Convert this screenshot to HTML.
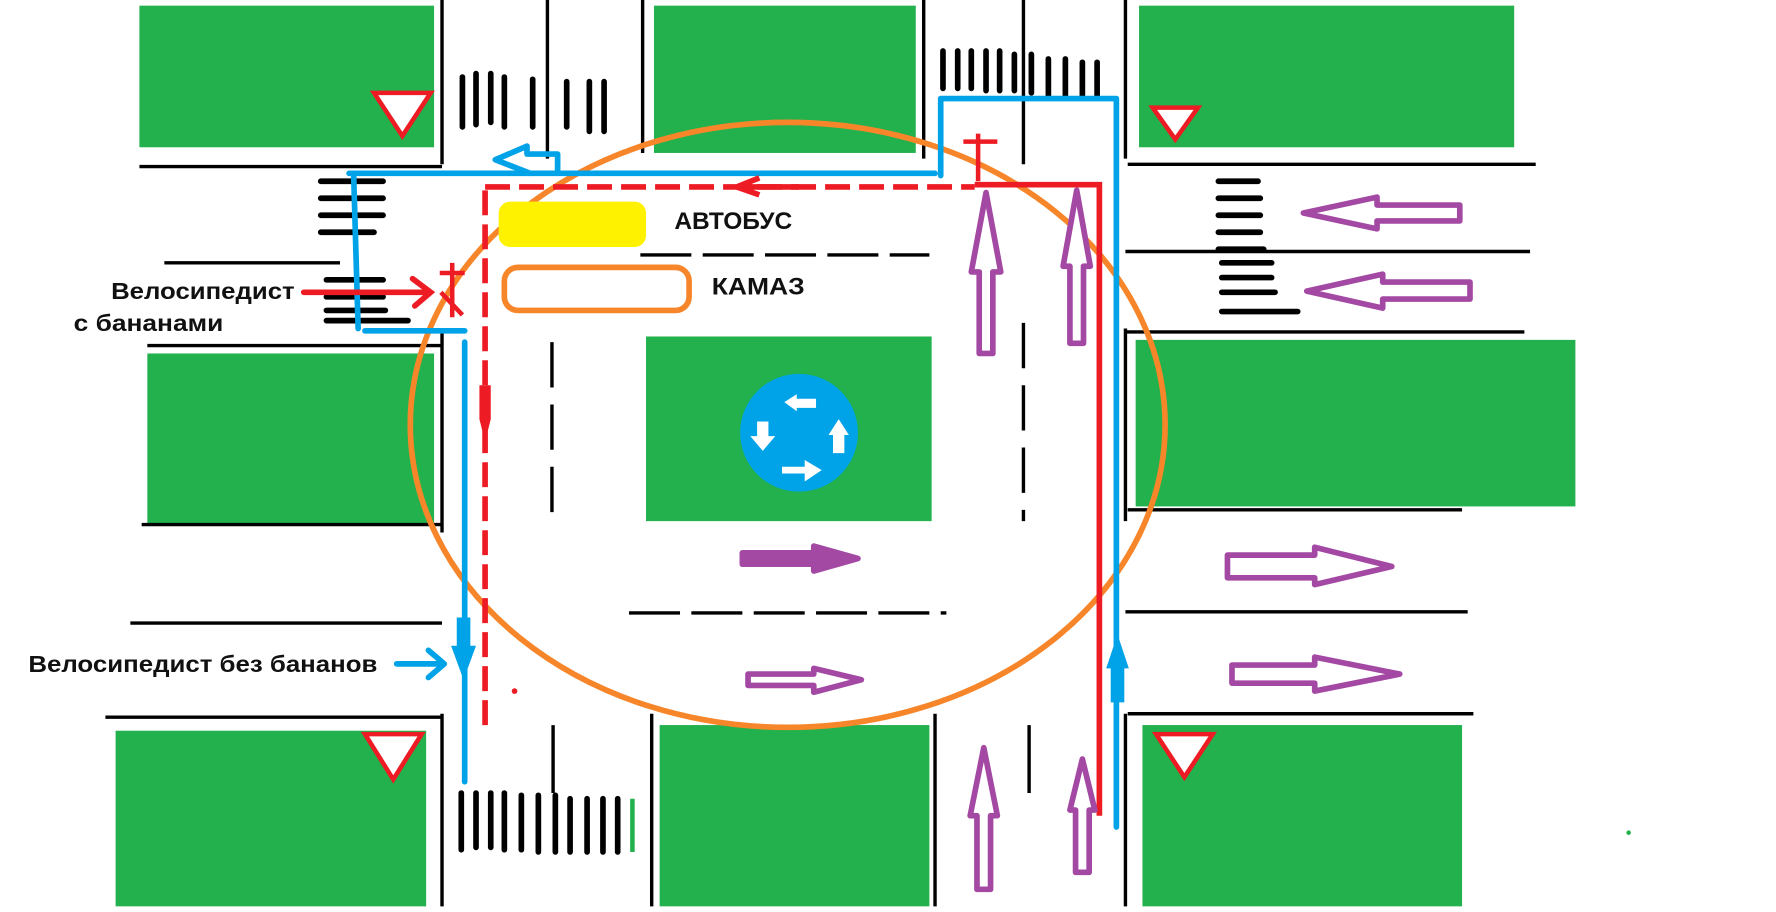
<!DOCTYPE html>
<html><head><meta charset="utf-8"><style>
html,body{margin:0;padding:0;background:#fff;}
svg{display:block;}
text{font-family:"Liberation Sans",sans-serif;font-weight:bold;fill:#111;}
</style></head><body>
<svg width="1776" height="912" viewBox="0 0 1567 805" preserveAspectRatio="none" xmlns="http://www.w3.org/2000/svg">
<rect width="1567" height="805" fill="#fff"/>
<g fill="#22b14c">
<rect x="123" y="5" width="260" height="125"/>
<rect x="577" y="5" width="231" height="130"/>
<rect x="1005" y="5" width="331" height="125"/>
<rect x="130" y="312" width="253" height="150"/>
<rect x="570" y="297" width="252" height="163"/>
<rect x="1002" y="300" width="388" height="147"/>
<rect x="102" y="645" width="274" height="155"/>
<rect x="582" y="640" width="238" height="160"/>
<rect x="1008" y="640" width="282" height="160"/>
</g>
<g stroke="#000" stroke-width="3" fill="none">
<path d="M390 0V145M483 0V140M567 0V135M815 0V140M903 0V145M993 0V140"/>
<path d="M123 147H390M995 145H1355M145 232H300M993 222H1350M993 293H1345M130 305H390M390 290V470M993 290V460M125 463H390M995 450H1290M115 550H390M993 540H1295M93 633H390M995 630H1300M390 630V800M575 630V800M825 630V800M993 630V800M488 640V700M908 640V700"/>
<path d="M487 302V465M903 285V460" stroke-dasharray="40 15"/>
<path d="M565 225H820M555 541H835" stroke-dasharray="45 10"/>
</g>
<g stroke="#000" stroke-width="5" stroke-linecap="round">
<path d="M408 68V112M420 65V110M433 65V108M445 68V112M470 70V112M500 72V112M520 72V116M533 72V116"/>
<path d="M832 45V78M845 45V78M857 45V78M870 45V80M882 45V80M895 48V80M910 48V82M925 52V85M940 52V85M955 55V85M968 55V85"/>
<path d="M283 160H338M283 175H338M283 190H338M283 205H330M288 247H338M288 262H338M288 274H340M288 283H360"/>
<path d="M1075 160H1110M1075 175H1112M1075 190H1112M1075 205H1112M1075 220H1115M1078 232H1122M1078 245H1122M1078 258H1125M1078 275H1145"/>
<path d="M407 700V750M420 700V748M433 700V748M445 700V750M460 702V750M475 702V752M490 702V752M503 705V752M518 705V752M532 705V752M545 705V752"/>
</g>
<path d="M558 705V752" stroke="#22b14c" stroke-width="4"/>
<circle cx="1437" cy="735" r="2" fill="#22b14c"/>
<g fill="#fff" stroke="#ed1c24" stroke-width="4">
<path d="M330 82H380L355 120Z"/><path d="M1017 95H1057L1037 123Z"/>
<path d="M322 648H372L347 688Z"/><path d="M1020 648H1070L1045 686Z"/>
</g>
<ellipse cx="695" cy="375" rx="333" ry="267" fill="none" stroke="#f7862b" stroke-width="5"/>
<rect x="440" y="178" width="130" height="40" rx="10" fill="#fff200"/>
<rect x="445" y="236" width="163" height="38" rx="12" fill="none" stroke="#f7862b" stroke-width="5"/>
<text x="595" y="202" font-size="21" textLength="104" lengthAdjust="spacingAndGlyphs">АВТОБУС</text>
<text x="628" y="260" font-size="21" textLength="82" lengthAdjust="spacingAndGlyphs">КАМАЗ</text>
<text x="98" y="264" font-size="20" textLength="162" lengthAdjust="spacingAndGlyphs">Велосипедист</text>
<text x="65" y="292" font-size="20" textLength="132" lengthAdjust="spacingAndGlyphs">с бананами</text>
<text x="25" y="593" font-size="20" textLength="308" lengthAdjust="spacingAndGlyphs">Велосипедист без бананов</text>
<circle cx="705" cy="382" r="52" fill="#00a2e8"/>
<g fill="#fff">
<path d="M692 355L703 348V352H720V360H703V363Z"/>
<path d="M668 372H678V385H684L673 398L662 385H668Z"/>
<path d="M735 400V384H731L740 370L749 384H745V400Z"/>
<path d="M690 412H710V406L725 415L710 425V418H690Z"/>
</g>
<g fill="none" stroke="#00a2e8" stroke-width="5" stroke-linecap="round" stroke-linejoin="round">
<path d="M308 153H825M312 153L316 290M322 292H410M410 302V690M830 155V87H985V730"/>
<path d="M468 153L437 141L465 129V136H492V150"/>
<path d="M350 586H390M378 574L392 586L378 598"/>
</g>
<path d="M403 545H415V570H420L409 600L398 570H403Z" fill="#00a2e8"/>
<path d="M980 620V590H976L986 560L996 590H992V620Z" fill="#00a2e8"/>
<g fill="none" stroke="#ed1c24" stroke-width="5">
<path d="M428 165H860M428 168V640" stroke-dasharray="22 8"/>
<path d="M860 163H970V720"/>
<path d="M268 258H378M364 246L380 258L366 270" stroke-linecap="round"/>
<path d="M388 241H410M399 232V280M389 258L408 278" stroke-width="4"/>
<path d="M850 125H880M863 118V160" stroke-width="4"/>
<path d="M705 165L650 165M670 157L650 165L670 172"/>
</g>
<path d="M423 340H433V370L428 390L423 370Z" fill="#ed1c24"/>
<circle cx="454" cy="610" r="2.5" fill="#ed1c24"/>
<g fill="#fff" stroke="#a349a4" stroke-width="5" stroke-linejoin="round">
<path d="M1150 188L1215 174V181H1288V195H1215V202Z"/>
<path d="M1153 257L1220 242V249H1297V264H1220V272Z"/>
<path d="M870 170L883 240H876V312H864V240H857Z"/>
<path d="M950 168L962 235H956V303H944V235H938Z"/>
<path d="M868 660L880 720H874V785H862V720H856Z"/>
<path d="M955 670L966 715H961V770H949V715H944Z"/>
<path d="M757 493L718 482V488H655V498H718V504Z" fill="#a349a4"/>
<path d="M760 600L718 590V595H660V605H718V611Z"/>
<path d="M1228 500L1160 483V490H1083V510H1160V516Z"/>
<path d="M1235 595L1160 580V587H1087V603H1160V610Z"/>
</g>
</svg>
</body></html>
